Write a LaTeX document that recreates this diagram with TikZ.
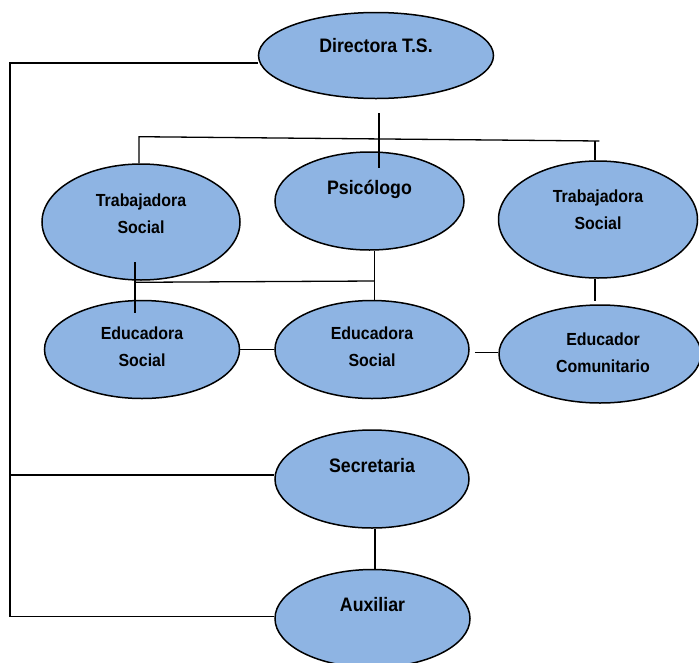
\documentclass[tikz,border=0pt]{standalone}
\usepackage{fontspec}
\usepackage{tikz}
\usetikzlibrary{shapes.geometric}
\newfontfamily\orgfont{Liberation Sans}[FakeStretch=0.91]
\definecolor{cargofill}{RGB}{142,180,227}

\begin{document}
\begin{tikzpicture}[x=1pt,y=-1pt,line width=1.3pt,
	cargo/.style={ellipse,draw,fill=cargofill,line width=1.5pt,inner sep=0pt},
	rotulo/.style={font=\orgfont\bfseries\fontsize{17.5}{27}\selectfont,align=center,text depth=0pt,inner sep=0pt},
	rotulo grande/.style={rotulo,font=\orgfont\bfseries\fontsize{19.5}{27}\selectfont}]
	\useasboundingbox (0,0) rectangle (699,662);
	\node[cargo,minimum width=235pt,minimum height=86pt,label={[rotulo grande,yshift=10pt]center:Directora T.S.}] (dir) at (376,55.5) {};
	\node[cargo,minimum width=189pt,minimum height=98pt,label={[rotulo grande,yshift=14pt]center:Psicólogo}] (psi) at (369.5,201) {};
	\node[cargo,minimum width=198pt,minimum height=116pt,label={[rotulo,yshift=8.6pt]center:Trabajadora\\Social}] (ts1) at (141,222) {};
	\node[cargo,minimum width=199pt,minimum height=117pt,label={[rotulo,yshift=10pt]center:Trabajadora\\Social}] (ts2) at (598,219.5) {};
	\node[cargo,minimum width=195pt,minimum height=98pt,label={[rotulo,yshift=2.7pt]center:Educadora\\Social}] (edu1) at (142,349.5) {};
	\node[cargo,minimum width=194pt,minimum height=98pt,label={[rotulo,yshift=2.7pt]center:Educadora\\Social}] (edu2) at (372,349.5) {};
	\node[cargo,minimum width=202pt,minimum height=98pt,label={[rotulo,xshift=3pt,yshift=1.5pt]center:Educador\\Comunitario}] (com) at (600,354) {};
	\node[cargo,minimum width=194pt,minimum height=98pt,label={[rotulo grande,yshift=14pt]center:Secretaria}] (sec) at (372,479) {};
	\node[cargo,minimum width=195pt,minimum height=98pt,label={[rotulo grande,yshift=14pt]center:Auxiliar}] (aux) at (372.5,618.5) {};

	\coordinate (rail top) at (10,63);
	\coordinate (rail sec) at (10,475);
	\coordinate (rail bottom) at (10,616.7);
	\draw (rail top -| dir.west) -- (rail top) -- (rail bottom) -- (rail bottom -| aux.west);
	\draw (rail sec) -- (rail sec -| sec.west);

	\coordinate (psi drop) at (379,113);
	\coordinate (psi in) at (379,168);
	\draw (psi drop) -- (psi in);
	\coordinate (bar left) at (139,136.7);
	\coordinate (bar right) at (599.3,141);
	\coordinate (bar joint) at (595,141);
	\draw (ts1.north -| bar left) -- (bar left) -- (bar right);
	\draw (bar joint) -- (bar joint |- ts2.north);

	\coordinate (ts1 in) at (135,262);
	\coordinate (edu1 in) at (135,313);
	\coordinate (mid left) at (135,282.3);
	\coordinate (mid right) at (374.5,281);
	\draw (ts1 in) -- (edu1 in);
	\draw (mid left) -- (mid right);
	\draw (psi.south -| mid right) -- (mid right |- edu2.north);

	\coordinate (com top) at (595,300.7);
	\draw (com top |- ts2.south) -- (com top);
	\draw (edu1.east) -- (edu2.west);
	\coordinate (com gap) at (474.8,352.3);
	\draw (com gap) -- (com gap -| com.west);

	\coordinate (aux drop) at (375,570);
	\draw (aux drop |- sec.south) -- (aux drop);
\end{tikzpicture}
\end{document}
